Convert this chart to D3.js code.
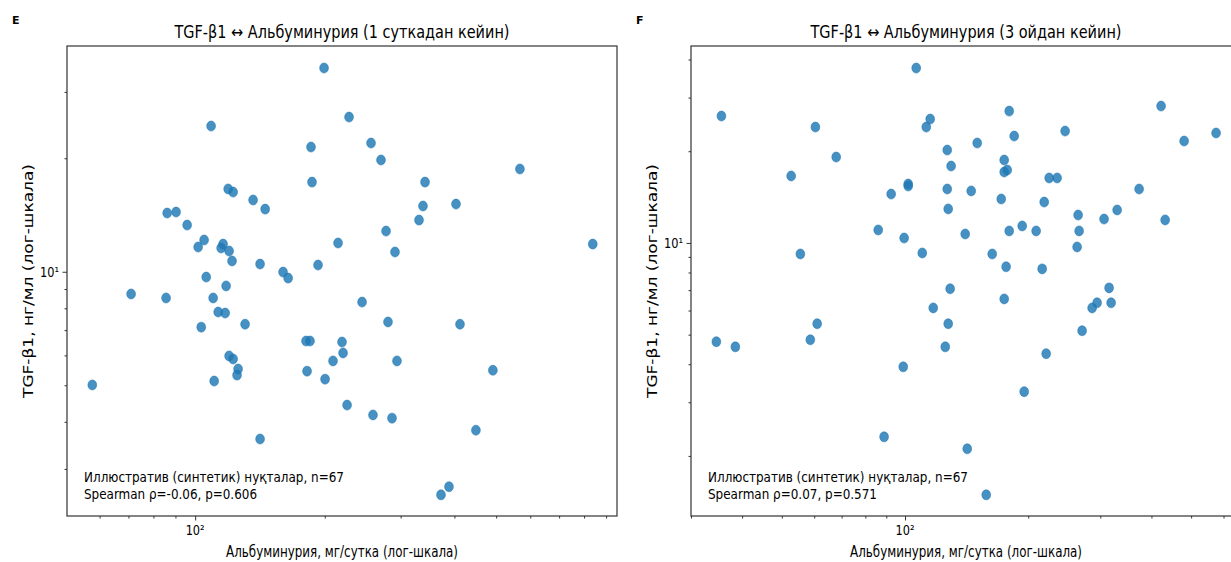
<!DOCTYPE html>
<html><head><meta charset="utf-8">
<script src="https://cdn.jsdelivr.net/npm/d3@7"></script>
<style>html,body{margin:0;padding:0;background:#fff;overflow:hidden}svg{display:block}text{font-family:"DejaVu Sans",sans-serif;fill:#000}</style>
</head><body><svg id="c" width="1231" height="562"></svg>
<script>
// ---- Data ----
const panelLetters = ["E", "F"];
const titles = ["TGF-β1 ↔ Альбуминурия (1 суткадан кейин)", "TGF-β1 ↔ Альбуминурия (3 ойдан кейин)"];
const xLabel = "Альбуминурия, мг/сутка (лог-шкала)";
const yLabel = "TGF-β1, нг/мл (лог-шкала)";
const noteLine1 = "Иллюстратив (синтетик) нуқталар, n=67";
const noteLine2 = ["Spearman ρ=-0.06, p=0.606", "Spearman ρ=0.07, p=0.571"];
const xMajorTicks = [100];
const xMajorLabels = ["10²"];
const yMajorTicks = [10];
const yMajorLabels = ["10¹"];

const albE = [57.7,71.0,85.6,86.1,90.3,95.8,101.6,104.9,106.1,103.3,108.9,110.1,110.7,113.1,114.9,116.1,118.0,117.4,119.3,119.9,122.5,121.8,119.9,122.5,125.8,125.1,130.6,136.3,141.5,145.4,141.5,160.0,164.4,180.9,184.8,181.9,185.8,186.8,192.9,199.2,200.3,209.0,214.7,219.3,220.5,225.3,227.7,244.1,256.1,258.8,270.1,277.5,280.4,286.5,291.1,294.2,331.0,338.1,341.8,403.4,412.1,372.3,388.5,448.7,491.3,567.7,838.1];
const tgfE = [5.01,8.73,8.52,14.31,14.40,13.30,11.63,12.14,9.68,7.13,24.35,8.52,5.13,7.82,11.56,11.84,9.17,7.77,16.58,11.35,16.27,10.68,5.98,5.87,5.52,5.32,7.26,15.50,10.48,14.66,3.60,9.98,9.62,6.55,6.55,5.45,21.42,17.29,10.42,34.70,5.19,5.80,11.92,6.51,6.09,4.43,25.72,8.31,21.95,4.17,19.79,12.82,7.36,4.09,11.28,5.80,13.71,14.94,17.29,15.12,7.26,2.56,2.69,3.80,5.48,18.73,11.84];

const albF = [34.6,35.6,38.5,52.7,55.5,58.7,60.4,61.0,67.9,86.0,88.9,92.5,99.0,99.5,101.8,101.8,106.5,110.2,112.7,115.2,117.2,125.4,126.8,126.8,127.5,127.5,128.9,129.6,140.3,141.9,145.1,150.1,157.9,163.3,171.8,174.7,174.7,174.7,176.6,177.7,179.7,179.7,184.8,193.3,195.5,209.1,216.3,218.8,221.2,225.0,235.3,246.1,263.3,264.8,266.3,270.8,286.5,294.6,306.4,315.2,318.8,329.8,373.2,422.3,432.0,480.7,575.4];
const tgfF = [4.74,26.09,4.56,16.59,9.20,4.81,24.01,5.43,19.14,11.03,2.31,14.47,3.92,10.38,15.61,15.38,37.49,9.27,24.01,25.50,6.12,4.56,20.18,15.03,12.93,5.43,7.07,17.88,10.70,2.11,14.81,21.28,1.49,9.20,13.94,18.71,17.09,6.55,8.35,17.35,27.09,10.95,22.43,11.37,3.25,10.95,8.22,13.62,4.33,16.34,16.34,23.29,9.70,12.35,10.95,5.15,6.12,6.36,11.98,7.12,6.36,12.83,15.03,28.14,11.90,21.60,22.95];

const xDomains = [[50.4, 954], [30.0, 662]];
const yDomains = [[2.25, 39.7], [1.27, 44.3]];

// ---- Layout ----
const panels = [
  {x0: 67, x1: 617, letterX: 12, ylabX: 28, alb: albE, tgf: tgfE},
  {x0: 691, x1: 1241, letterX: 636, ylabX: 652, alb: albF, tgf: tgfF}
];
const axTop = 46, axBottom = 516;
const svg = d3.select("#c");
const frameColor = "#333";

panels.forEach((p, i) => {
  const x = d3.scaleLog().domain(xDomains[i]).range([p.x0, p.x1]);
  const y = d3.scaleLog().domain(yDomains[i]).range([axBottom, axTop]);
  const g = svg.append("g");
  const cx = (p.x0 + p.x1) / 2;

  // points
  const pts = p.alb.map((a, k) => ({a, t: p.tgf[k]}));
  g.append("g").selectAll("ellipse").data(pts).join("ellipse")
    .attr("cx", d => x(d.a)).attr("cy", d => y(d.t))
    .attr("rx", 4.4).attr("ry", 5)
    .attr("fill", "#1f77b4").attr("fill-opacity", 0.82)
    .attr("stroke", "#1f77b4").attr("stroke-opacity", 0.9).attr("stroke-width", 0.6);

  // ticks
  const xMinor = x.ticks(20).filter(v => !xMajorTicks.includes(v));
  const yMinor = y.ticks(20).filter(v => !yMajorTicks.includes(v));
  const xa = g.append("g").attr("transform", `translate(0,${axBottom})`);
  xa.call(d3.axisBottom(x).tickValues(xMinor).tickSize(2.5).tickFormat(""));
  xa.select(".domain").remove();
  const xb = g.append("g").attr("transform", `translate(0,${axBottom})`);
  xb.call(d3.axisBottom(x).tickValues(xMajorTicks).tickSize(4.5).tickFormat(""));
  xb.select(".domain").remove();
  const ya = g.append("g").attr("transform", `translate(${p.x0},0)`);
  ya.call(d3.axisLeft(y).tickValues(yMinor).tickSize(2.5).tickFormat(""));
  ya.select(".domain").remove();
  const yb = g.append("g").attr("transform", `translate(${p.x0},0)`);
  yb.call(d3.axisLeft(y).tickValues(yMajorTicks).tickSize(4.5).tickFormat(""));
  yb.select(".domain").remove();
  g.selectAll(".tick line").attr("stroke", frameColor).attr("stroke-width", 1);

  // tick labels
  g.selectAll(".xl").data(xMajorTicks).join("text")
    .attr("x", d => x(d)).attr("y", 535).attr("text-anchor", "middle")
    .attr("font-size", 14).attr("textLength", 19).attr("lengthAdjust", "spacingAndGlyphs")
    .text((d, k) => xMajorLabels[k]);
  g.selectAll(".yl").data(yMajorTicks).join("text")
    .attr("x", p.x0 - 8).attr("y", d => y(d) + 5).attr("text-anchor", "end")
    .attr("font-size", 14).attr("textLength", 19).attr("lengthAdjust", "spacingAndGlyphs")
    .text((d, k) => yMajorLabels[k]);

  // frame
  g.append("rect").attr("x", p.x0).attr("y", axTop).attr("width", p.x1 - p.x0).attr("height", axBottom - axTop)
    .attr("fill", "none").attr("stroke", frameColor).attr("stroke-width", 1.2);

  // title
  g.append("text").attr("x", cx).attr("y", 38).attr("text-anchor", "middle")
    .attr("font-size", 17).attr("textLength", i === 0 ? 335 : 311).attr("lengthAdjust", "spacingAndGlyphs")
    .text(titles[i]);
  // panel letter
  g.append("text").attr("x", p.letterX).attr("y", 24).attr("font-size", 11).attr("font-weight", "bold")
    .text(panelLetters[i]);
  // x label
  g.append("text").attr("x", cx).attr("y", 557).attr("text-anchor", "middle")
    .attr("font-size", 15).attr("textLength", 232).attr("lengthAdjust", "spacingAndGlyphs")
    .text(xLabel);
  // y label (rendered with the same horizontal squeeze as the rest of the picture)
  g.append("text").attr("transform", `translate(${p.ylabX},${(axTop + axBottom) / 2}) rotate(-90) scale(1,0.88)`)
    .attr("text-anchor", "middle").attr("dy", "0.35em")
    .attr("font-size", 15).attr("textLength", 234).attr("lengthAdjust", "spacingAndGlyphs")
    .text(yLabel);
  // annotation
  g.append("text").attr("x", p.x0 + 17).attr("y", 482).attr("font-size", 14)
    .attr("textLength", 260).attr("lengthAdjust", "spacingAndGlyphs").text(noteLine1);
  g.append("text").attr("x", p.x0 + 17).attr("y", 499).attr("font-size", 14)
    .attr("textLength", i === 0 ? 173 : 169).attr("lengthAdjust", "spacingAndGlyphs").text(noteLine2[i]);
});
</script></body></html>
